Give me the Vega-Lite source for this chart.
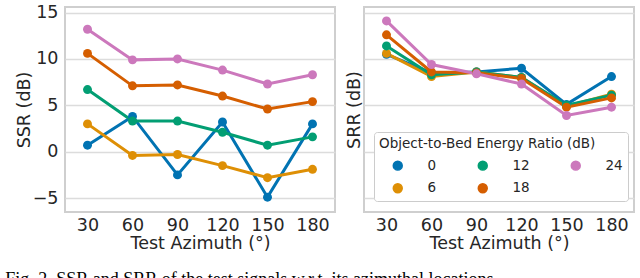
{
  "$schema": "https://vega.github.io/schema/vega-lite/v6.json",
  "background": "white",
  "padding": {"left": 5, "top": 2, "right": 4, "bottom": 0},
  "config": {
    "font": "DejaVu Sans",
    "view": {"stroke": "#cfcfcf", "strokeWidth": 2},
    "axis": {"labelFont": "DejaVu Sans", "titleFont": "DejaVu Sans", "labelFontSize": 17.5, "titleFontSize": 17.5, "titleFontWeight": "normal", "labelColor": "#262626", "titleColor": "#262626", "domain": false, "ticks": false, "gridColor": "#dcdcdc", "gridWidth": 1.5},
    "concat": {"spacing": 8},
    "title": {"font": "Liberation Serif", "fontSize": 18, "fontWeight": "normal", "color": "#000000"}
  },
  "title": {"text": "Fig. 2.  SSR and SRR of the test signals w.r.t. its azimuthal locations", "orient": "bottom", "anchor": "start", "offset": 18, "dx": -9},
  "data": {"values": [
    {"metric": "SSR", "az": 30, "ratio": "0", "v": 0.7},
    {"metric": "SSR", "az": 60, "ratio": "0", "v": 3.8},
    {"metric": "SSR", "az": 90, "ratio": "0", "v": -2.5},
    {"metric": "SSR", "az": 120, "ratio": "0", "v": 3.2},
    {"metric": "SSR", "az": 150, "ratio": "0", "v": -4.9},
    {"metric": "SSR", "az": 180, "ratio": "0", "v": 3.0},
    {"metric": "SSR", "az": 30, "ratio": "6", "v": 3.0},
    {"metric": "SSR", "az": 60, "ratio": "6", "v": -0.4},
    {"metric": "SSR", "az": 90, "ratio": "6", "v": -0.3},
    {"metric": "SSR", "az": 120, "ratio": "6", "v": -1.5},
    {"metric": "SSR", "az": 150, "ratio": "6", "v": -2.8},
    {"metric": "SSR", "az": 180, "ratio": "6", "v": -1.9},
    {"metric": "SSR", "az": 30, "ratio": "12", "v": 6.7},
    {"metric": "SSR", "az": 60, "ratio": "12", "v": 3.3},
    {"metric": "SSR", "az": 90, "ratio": "12", "v": 3.3},
    {"metric": "SSR", "az": 120, "ratio": "12", "v": 2.1},
    {"metric": "SSR", "az": 150, "ratio": "12", "v": 0.7},
    {"metric": "SSR", "az": 180, "ratio": "12", "v": 1.6},
    {"metric": "SSR", "az": 30, "ratio": "18", "v": 10.6},
    {"metric": "SSR", "az": 60, "ratio": "18", "v": 7.1},
    {"metric": "SSR", "az": 90, "ratio": "18", "v": 7.2},
    {"metric": "SSR", "az": 120, "ratio": "18", "v": 6.0},
    {"metric": "SSR", "az": 150, "ratio": "18", "v": 4.6},
    {"metric": "SSR", "az": 180, "ratio": "18", "v": 5.4},
    {"metric": "SSR", "az": 30, "ratio": "24", "v": 13.2},
    {"metric": "SSR", "az": 60, "ratio": "24", "v": 9.9},
    {"metric": "SSR", "az": 90, "ratio": "24", "v": 10.0},
    {"metric": "SSR", "az": 120, "ratio": "24", "v": 8.8},
    {"metric": "SSR", "az": 150, "ratio": "24", "v": 7.3},
    {"metric": "SSR", "az": 180, "ratio": "24", "v": 8.3},
    {"metric": "SRR", "az": 30, "ratio": "0", "v": 10.5},
    {"metric": "SRR", "az": 60, "ratio": "0", "v": 8.5},
    {"metric": "SRR", "az": 90, "ratio": "0", "v": 8.6},
    {"metric": "SRR", "az": 120, "ratio": "0", "v": 9.0},
    {"metric": "SRR", "az": 150, "ratio": "0", "v": 5.1},
    {"metric": "SRR", "az": 180, "ratio": "0", "v": 8.1},
    {"metric": "SRR", "az": 30, "ratio": "6", "v": 10.6},
    {"metric": "SRR", "az": 60, "ratio": "6", "v": 8.1},
    {"metric": "SRR", "az": 90, "ratio": "6", "v": 8.6},
    {"metric": "SRR", "az": 120, "ratio": "6", "v": 8.0},
    {"metric": "SRR", "az": 150, "ratio": "6", "v": 4.9},
    {"metric": "SRR", "az": 180, "ratio": "6", "v": 6.2},
    {"metric": "SRR", "az": 30, "ratio": "12", "v": 11.4},
    {"metric": "SRR", "az": 60, "ratio": "12", "v": 8.3},
    {"metric": "SRR", "az": 90, "ratio": "12", "v": 8.6},
    {"metric": "SRR", "az": 120, "ratio": "12", "v": 8.0},
    {"metric": "SRR", "az": 150, "ratio": "12", "v": 5.0},
    {"metric": "SRR", "az": 180, "ratio": "12", "v": 6.1},
    {"metric": "SRR", "az": 30, "ratio": "18", "v": 12.6},
    {"metric": "SRR", "az": 60, "ratio": "18", "v": 8.6},
    {"metric": "SRR", "az": 90, "ratio": "18", "v": 8.5},
    {"metric": "SRR", "az": 120, "ratio": "18", "v": 7.9},
    {"metric": "SRR", "az": 150, "ratio": "18", "v": 4.8},
    {"metric": "SRR", "az": 180, "ratio": "18", "v": 5.8},
    {"metric": "SRR", "az": 30, "ratio": "24", "v": 14.1},
    {"metric": "SRR", "az": 60, "ratio": "24", "v": 9.4},
    {"metric": "SRR", "az": 90, "ratio": "24", "v": 8.4},
    {"metric": "SRR", "az": 120, "ratio": "24", "v": 7.3},
    {"metric": "SRR", "az": 150, "ratio": "24", "v": 3.9},
    {"metric": "SRR", "az": 180, "ratio": "24", "v": 4.8}
  ]},
  "resolve": {"scale": {"y": "shared", "x": "shared", "color": "shared"}, "legend": {"color": "independent"}},
  "hconcat": [
    {
      "width": 270, "height": 205,
      "transform": [{"filter": "datum.metric === 'SSR'"}],
      "encoding": {
        "x": {"field": "az", "type": "ordinal", "scale": {"type": "point", "padding": 0.5}, "axis": {"title": "Test Azimuth (°)", "labelAngle": 0, "grid": false, "labelPadding": 4, "titlePadding": 1}},
        "y": {"field": "v", "type": "quantitative", "scale": {"domain": [-6.5, 15.6], "nice": false, "zero": false}, "axis": {"title": "SSR (dB)", "values": [-5, 0, 5, 10, 15], "labelPadding": 7, "titlePadding": -1}},
        "color": {"field": "ratio", "type": "nominal", "scale": {"domain": ["0", "12", "24", "6", "18"], "range": ["#0173b2", "#029e73", "#cc78bc", "#de8f05", "#d55e00"]}, "legend": null}
      },
      "layer": [
        {"mark": {"type": "line", "strokeWidth": 3}},
        {"mark": {"type": "circle", "size": 80, "opacity": 1}}
      ]
    },
    {
      "width": 272, "height": 205,
      "transform": [{"filter": "datum.metric === 'SRR'"}],
      "encoding": {
        "x": {"field": "az", "type": "ordinal", "scale": {"type": "point", "padding": 0.5}, "axis": {"title": "Test Azimuth (°)", "labelAngle": 0, "grid": false, "labelPadding": 4, "titlePadding": 1}},
        "y": {"field": "v", "type": "quantitative", "scale": {"domain": [-6.5, 15.6], "nice": false, "zero": false}, "axis": {"title": "SRR (dB)", "values": [-5, 0, 5, 10, 15], "labels": false, "titlePadding": 1}},
        "color": {"field": "ratio", "type": "nominal", "scale": {"domain": ["0", "12", "24", "6", "18"], "range": ["#0173b2", "#029e73", "#cc78bc", "#de8f05", "#d55e00"]},
          "legend": {"title": "Object-to-Bed Energy Ratio (dB)", "orient": "none", "legendX": 10, "legendY": 125, "columns": 3, "direction": "horizontal", "gridAlign": "each", "fillColor": "white", "strokeColor": "#cccccc", "cornerRadius": 3, "padding": 5, "titleFont": "DejaVu Sans", "titleFontSize": 13.5, "titleFontWeight": "normal", "titleColor": "#262626", "titleLimit": 400, "labelFont": "DejaVu Sans", "labelFontSize": 13.5, "labelColor": "#262626", "labelOffset": 23, "columnPadding": 27, "rowPadding": 7, "symbolType": "circle", "symbolSize": 80, "symbolOffset": 12, "titlePadding": 8}}
      },
      "layer": [
        {"mark": {"type": "line", "strokeWidth": 3}},
        {"mark": {"type": "circle", "size": 80, "opacity": 1}}
      ]
    }
  ]
}
